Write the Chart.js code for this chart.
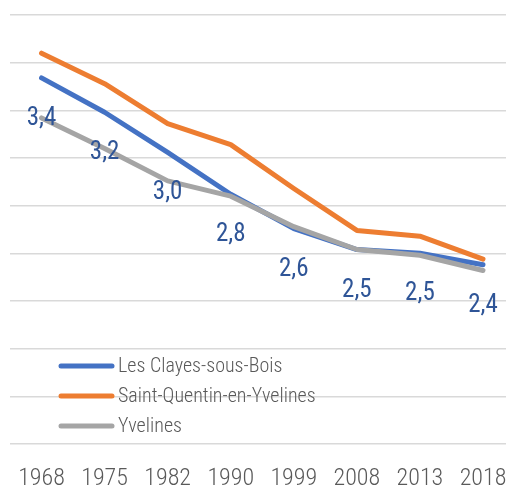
<!DOCTYPE html>
<html>
<head>
<meta charset="utf-8">
<script src="https://cdn.jsdelivr.net/npm/chart.js@4/dist/chart.umd.min.js"></script>
<style>
  html, body { margin:0; padding:0; background:#fff; overflow:hidden; }
</style>
</head>
<body>
<canvas id="c" width="506" height="486"></canvas>
<script>
// values (average household size)
const years = ["1968","1975","1982","1990","1999","2008","2013","2018"];
const clayes = [3.42, 3.24, 3.03, 2.81, 2.63, 2.52, 2.50, 2.44];
const sqy    = [3.55, 3.39, 3.18, 3.07, 2.84, 2.62, 2.59, 2.47];
const yvel   = [3.21, 3.05, 2.88, 2.80, 2.64, 2.52, 2.49, 2.41];
const labels = ["3,4","3,2","3,0","2,8","2,6","2,5","2,5","2,4"];

const FONT = "'Roboto Condensed', 'DejaVu Sans Condensed', sans-serif";

// evenly spaced categories on a linear axis so the plot can run past the right edge
const pts = arr => arr.map((v, i) => ({x:i, y:v}));

// labels for the first series, under its points (Excel "below")
const valueLabels = {
  id: "valueLabels",
  afterDatasetsDraw(chart){
    const ctx = chart.ctx;
    const meta = chart.getDatasetMeta(0);
    ctx.save();
    ctx.font = "25px " + FONT;
    ctx.fillStyle = "#2f5597";
    ctx.textAlign = "center";
    ctx.textBaseline = "alphabetic";
    meta.data.forEach((pt, i) => {
      ctx.fillText(labels[i], pt.x, pt.y + 47);
    });
    ctx.restore();
  }
};

// legend inside the plot, lower left
const innerLegend = {
  id: "innerLegend",
  afterDatasetsDraw(chart){
    const ctx = chart.ctx;
    ctx.save();
    ctx.font = "300 20px " + FONT;
    ctx.textBaseline = "middle";
    ctx.textAlign = "left";
    chart.data.datasets.forEach((ds, i) => {
      const y = 366 + i * 30;
      ctx.strokeStyle = ds.borderColor;
      ctx.lineWidth = 5;
      ctx.lineCap = "round";
      ctx.beginPath(); ctx.moveTo(61, y); ctx.lineTo(112, y); ctx.stroke();
      ctx.fillStyle = "#595959";
      ctx.fillText(ds.label, 118, y + 1);
    });
    ctx.restore();
  }
};

new Chart(document.getElementById("c"), {
  type: "line",
  data: {
    datasets: [
      {label:"Les Clayes-sous-Bois", data:pts(clayes), borderColor:"#4472c4", order:3},
      {label:"Saint-Quentin-en-Yvelines", data:pts(sqy), borderColor:"#ed7d31", order:2},
      {label:"Yvelines", data:pts(yvel), borderColor:"#a5a5a5", order:1},
    ]
  },
  options: {
    responsive:false,
    animation:false,
    layout:{padding:{top:15, left:10, right:0, bottom:0}},
    elements:{
      line:{borderWidth:5, tension:0, borderCapStyle:"round", borderJoinStyle:"round", fill:false},
      point:{radius:0, hoverRadius:0}
    },
    plugins:{legend:{display:false}, tooltip:{enabled:false}},
    scales:{
      x:{
        type:"linear",
        min:-0.5, max:7.365,
        grid:{display:false, drawTicks:false},
        border:{display:false},
        afterBuildTicks: s => { s.ticks = years.map((_, i) => ({value:i})); },
        afterFit: s => { s.paddingLeft = 0; s.paddingRight = 0; s.height = 42; },
        ticks:{
          color:"#595959", font:{family:FONT, size:24, weight:"300", lineHeight:1}, padding:23,
          maxRotation:0, autoSkip:false,
          callback: v => years[v]
        }
      },
      y:{
        min:1.5, max:3.75,
        grid:{color:"#d9d9d9", lineWidth:1.5, drawTicks:false},
        border:{display:false},
        ticks:{display:false, stepSize:0.25}
      }
    }
  },
  plugins:[valueLabels, innerLegend]
});
</script>
</body>
</html>
